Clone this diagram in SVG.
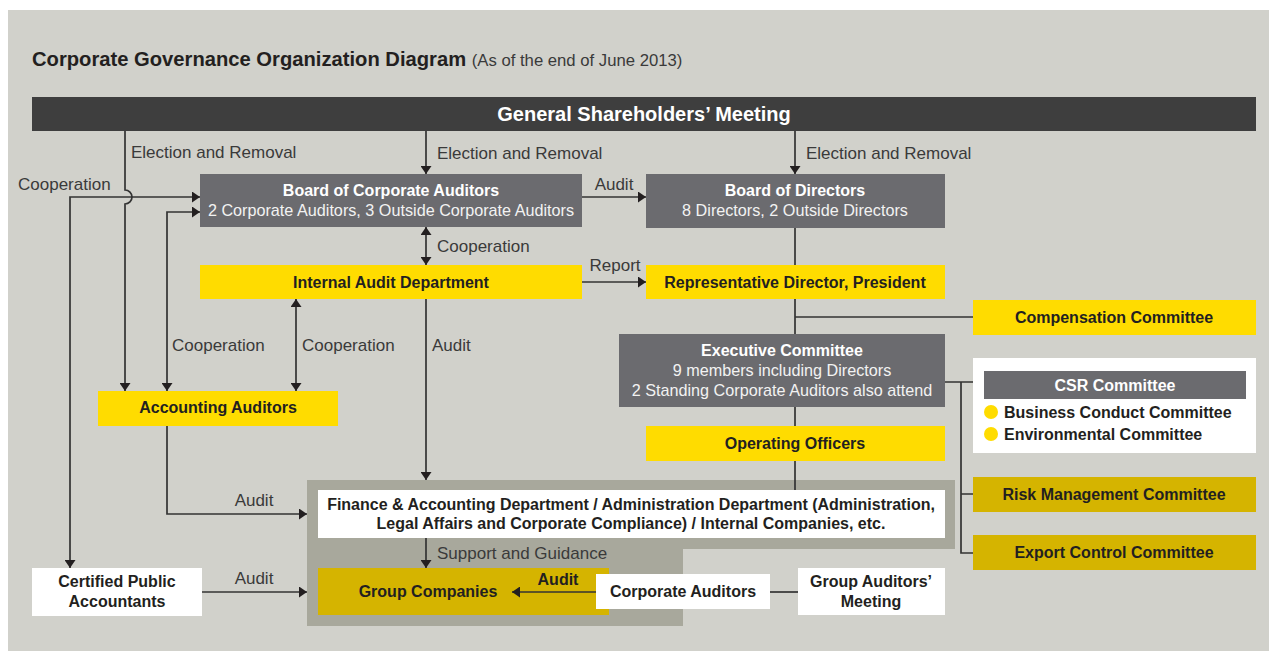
<svg xmlns="http://www.w3.org/2000/svg" width="1269" height="652" viewBox="0 0 1269 652">
<defs>
<style>
.t{font-family:"Liberation Sans",Arial,sans-serif}
.b{font-family:"Liberation Sans",Arial,sans-serif;font-weight:bold;font-size:16px;fill:#231f20;text-anchor:middle}
.bw{font-family:"Liberation Sans",Arial,sans-serif;font-weight:bold;font-size:16px;fill:#ffffff;text-anchor:middle}
.rw{font-family:"Liberation Sans",Arial,sans-serif;font-size:16.2px;fill:#f2f2f2;text-anchor:middle}
.lab{font-family:"Liberation Sans",Arial,sans-serif;font-size:17px;fill:#3a3a3a}
.dark{fill:#3e3e3e}
.grey{fill:#6b6b6f}
.yel{fill:#ffdc00}
.mus{fill:#d5b400}
.wht{fill:#ffffff}
.ln{fill:none;stroke:#333333;stroke-width:1.7}
.arr{marker-end:url(#ah)}
.dbl{marker-start:url(#ah);marker-end:url(#ah)}
</style>
<marker id="ah" viewBox="0 0 8 11" refX="8" refY="5.5" markerWidth="8" markerHeight="11" markerUnits="userSpaceOnUse" orient="auto-start-reverse">
<path d="M0,0 L8,5.5 L0,11 Z" fill="#231f20"/>
</marker>
</defs>
<rect x="0" y="0" width="1269" height="652" fill="#ffffff"/>
<rect x="8" y="10" width="1261" height="641" fill="#d1d1cb"/>
<g id="title">
<text class="t" x="32" y="66" font-size="20.2" font-weight="bold" fill="#231f20">Corporate Governance Organization Diagram <tspan font-weight="normal" font-size="16.7" fill="#3a3a3a">(As of the end of June 2013)</tspan></text>
</g>
<g id="gsm">
<rect class="dark" x="32" y="97" width="1224" height="34"/>
<text class="bw" x="644" y="121" style="font-size:20px">General Shareholders’ Meeting</text>
</g>
<g id="container">
<path d="M307,480 H955 V549 H683 V626 H307 Z" fill="#a8a89c"/>
</g>
<g id="connectors">
<path class="ln arr" d="M426,131 V174"/>
<path class="ln arr" d="M795,131 V174"/>
<path class="ln arr" d="M125,131 V190 A7,7 0 0 1 125,204 V391"/>
<path class="ln dbl" d="M70,568 V197 H200"/>
<path class="ln dbl" d="M167,391 V212 H200"/>
<path class="ln dbl" d="M296,299 V391"/>
<path class="ln dbl" d="M426,227 V265"/>
<path class="ln arr" d="M426,299 V480"/>
<path class="ln arr" d="M582,197 H646"/>
<path class="ln arr" d="M582,282 H646"/>
<path class="ln arr" d="M167,425 V514 H307"/>
<path class="ln arr" d="M202,592 H307"/>
<path class="ln arr" d="M426,538 V568"/>
<path class="ln" d="M795,228 V265 M795,299 V334 M795,317 H973 M795,407 V426 M795,461 V490"/>
<path class="ln" d="M945,382 H973 M961,382 V553 H973 M961,494 H973"/>
<path class="ln" d="M770,592 H798"/>
</g>
<g id="labels">
<text class="lab" x="131" y="158">Election and Removal</text>
<text class="lab" x="437" y="159">Election and Removal</text>
<text class="lab" x="806" y="159">Election and Removal</text>
<text class="lab" x="18" y="190">Cooperation</text>
<text class="lab" x="614" y="190" text-anchor="middle">Audit</text>
<text class="lab" x="437" y="252">Cooperation</text>
<text class="lab" x="615" y="271" text-anchor="middle">Report</text>
<text class="lab" x="172" y="351">Cooperation</text>
<text class="lab" x="302" y="351">Cooperation</text>
<text class="lab" x="432" y="351">Audit</text>
<text class="lab" x="254" y="506" text-anchor="middle">Audit</text>
<text class="lab" x="254" y="584" text-anchor="middle">Audit</text>
<text class="lab" x="437" y="559">Support and Guidance</text>
</g>
<g id="bca">
<rect class="grey" x="200" y="174" width="382" height="53"/>
<text class="bw" x="391" y="196">Board of Corporate Auditors</text>
<text class="rw" x="391" y="216">2 Corporate Auditors, 3 Outside Corporate Auditors</text>
</g>
<g id="bod">
<rect class="grey" x="646" y="174" width="299" height="54"/>
<text class="bw" x="795" y="196">Board of Directors</text>
<text class="rw" x="795" y="216">8 Directors, 2 Outside Directors</text>
</g>
<g id="iad">
<rect class="yel" x="200" y="265" width="382" height="34"/>
<text class="b" x="391" y="288">Internal Audit Department</text>
</g>
<g id="rep">
<rect class="yel" x="646" y="265" width="299" height="34"/>
<text class="b" x="795" y="288">Representative Director, President</text>
</g>
<g id="comp">
<rect class="yel" x="973" y="300" width="283" height="35"/>
<text class="b" x="1114" y="323">Compensation Committee</text>
</g>
<g id="exec">
<rect class="grey" x="619" y="334" width="326" height="73"/>
<text class="bw" x="782" y="356">Executive Committee</text>
<text class="rw" x="782" y="376">9 members including Directors</text>
<text class="rw" x="782" y="396">2 Standing Corporate Auditors also attend</text>
</g>
<g id="ops">
<rect class="yel" x="646" y="426" width="299" height="35"/>
<text class="b" x="795" y="449">Operating Officers</text>
</g>
<g id="csr">
<rect class="wht" x="973" y="358" width="283" height="95"/>
<rect class="grey" x="984" y="371" width="262" height="28"/>
<text class="bw" x="1115" y="391">CSR Committee</text>
<circle cx="991" cy="412" r="7" fill="#ffdc00"/>
<circle cx="991" cy="434" r="7" fill="#ffdc00"/>
<text class="b" x="1004" y="418" style="text-anchor:start">Business Conduct Committee</text>
<text class="b" x="1004" y="440" style="text-anchor:start">Environmental Committee</text>
</g>
<g id="risk">
<rect class="mus" x="973" y="477" width="283" height="35"/>
<text class="b" x="1114" y="500">Risk Management Committee</text>
</g>
<g id="export">
<rect class="mus" x="973" y="535" width="283" height="35"/>
<text class="b" x="1114" y="558">Export Control Committee</text>
</g>
<g id="acc">
<rect class="yel" x="98" y="391" width="240" height="35"/>
<text class="b" x="218" y="413">Accounting Auditors</text>
</g>
<g id="finance">
<rect class="wht" x="318" y="490" width="627" height="48"/>
<text class="b" x="631" y="510">Finance &amp; Accounting Department / Administration Department (Administration,</text>
<text class="b" x="631" y="529">Legal Affairs and Corporate Compliance) / Internal Companies, etc.</text>
</g>
<g id="group">
<rect class="mus" x="318" y="568" width="291" height="47"/>
<text class="b" x="428" y="597">Group Companies</text>
</g>
<g id="corpaud">
<rect class="wht" x="596" y="574" width="174" height="35"/>
<text class="b" x="683" y="597">Corporate Auditors</text>
<path class="ln arr" d="M596,592 H512"/>
<text class="b" x="558" y="585">Audit</text>
</g>
<g id="gam">
<rect class="wht" x="798" y="568" width="147" height="47"/>
<text class="b" x="871" y="587">Group Auditors’</text>
<text class="b" x="871" y="607">Meeting</text>
</g>
<g id="cpa">
<rect class="wht" x="32" y="568" width="170" height="48"/>
<text class="b" x="117" y="587">Certified Public</text>
<text class="b" x="117" y="607">Accountants</text>
</g>
</svg>
